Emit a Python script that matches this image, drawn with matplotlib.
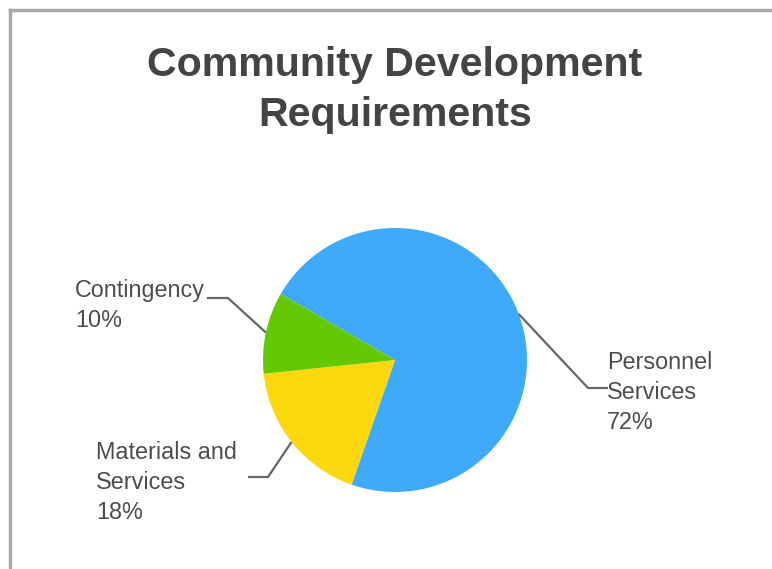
import numpy as np
import matplotlib.pyplot as plt
from matplotlib.lines import Line2D

# Budget split for the department
categories = ['Personnel\nServices', 'Materials and\nServices', 'Contingency']
shares = [72, 18, 10]
colors = ['#3fa9fa', '#fdd80f', '#63c903']
title = 'Community Development\nRequirements'

W, H = 772, 569
fig = plt.figure(figsize=(W / 100, H / 100), dpi=100)
ax = fig.add_axes([0, 0, 1, 1])

cx, cy, r = 395, H - 360, 132
wedges, _ = ax.pie(shares, colors=colors, startangle=150, counterclock=False,
                   center=(cx, cy), radius=r, frame=True,
                   wedgeprops=dict(linewidth=0))
ax.set_xlim(0, W)
ax.set_ylim(0, H)
ax.set_aspect('equal')
ax.axis('off')

# label anchor: (elbow x, elbow y, end x, text x, text top y)
label_layout = {
    'Personnel\nServices': (588, H - 388, 608, 607, H - 351),
    'Materials and\nServices': (268, H - 477, 248, 96, H - 441),
    'Contingency': (228, H - 298, 207, 75, H - 279),
}

for w, cat, pct in zip(wedges, categories, shares):
    mid = np.deg2rad((w.theta1 + w.theta2) / 2)
    x0, y0 = cx + r * np.cos(mid), cy + r * np.sin(mid)
    ex, ey, endx, tx, ty = label_layout[cat]
    ax.plot([x0, ex, endx], [y0, ey, ey], color='#666666', lw=1.6,
            solid_capstyle='butt')
    ax.text(tx, ty, f'{cat}\n{pct}%', ha='left', va='top', fontsize=16.8,
            family='Liberation Sans', color='#4d4d4d', linespacing=1.4)

ax.text(395, H - 90, title, ha='center', va='center', fontsize=29.6,
        fontweight='bold', family='Liberation Sans', color='#444444',
        linespacing=1.4)

# panel border along top and left
fig.add_artist(Line2D([10 / W, 1], [1 - 10 / H, 1 - 10 / H], color='#a8a8a8', lw=2.5))
fig.add_artist(Line2D([10 / W, 10 / W], [0, 1 - 10 / H], color='#a8a8a8', lw=2.5))

fig.savefig('out.png', dpi=100, facecolor='white')
